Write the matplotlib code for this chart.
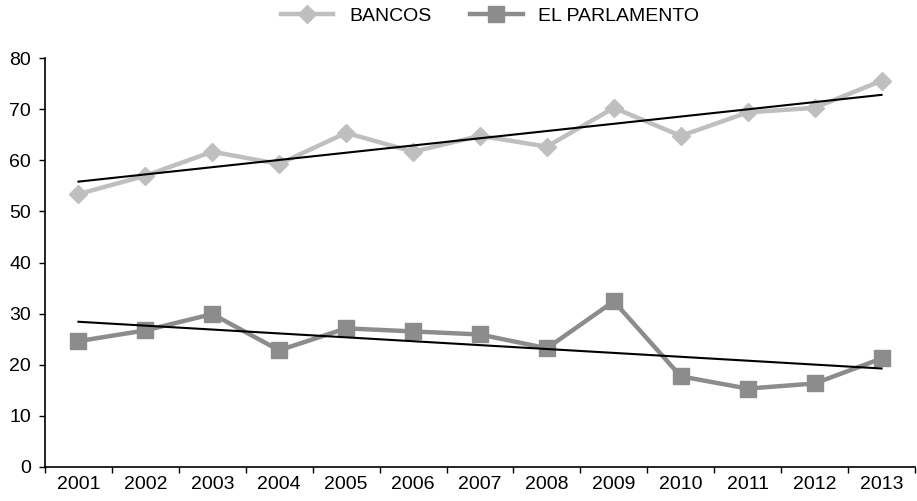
import matplotlib
matplotlib.use("Agg")
import matplotlib.pyplot as plt
import numpy as np

plt.rcParams['font.family'] = ['Liberation Sans', 'DejaVu Sans']

years = ['2001', '2002', '2003', '2004', '2005', '2006', '2007',
         '2008', '2009', '2010', '2011', '2012', '2013']
bancos = [53.4, 57.0, 61.7, 59.3, 65.4, 61.7, 64.8, 62.7, 70.3, 64.8, 69.4, 70.3, 75.6]
parlamento = [24.6, 26.7, 29.9, 22.8, 27.1, 26.5, 25.9, 23.2, 32.4, 17.7, 15.3, 16.3, 21.2]

fig = plt.figure(figsize=(9.17, 5.01), dpi=100)
ax = fig.add_axes([45 / 917, 34.3 / 501, 870 / 917, 408.4 / 501])

x = np.arange(len(years))

ax.plot(x, bancos, color='#bfbfbf', lw=3.2, marker='D', markersize=9.5,
        label='BANCOS', zorder=2)
ax.plot(x, parlamento, color='#8c8c8c', lw=3.2, marker='s', markersize=11,
        label='EL PARLAMENTO', zorder=2)

# linear trend lines
for series in (bancos, parlamento):
    k, b = np.polyfit(x, series, 1)
    ax.plot(x, k * x + b, color='black', lw=1.5, zorder=3)

ax.set_xlim(-0.5, len(years) - 0.5)
ax.set_ylim(0, 80)
ax.set_yticks(range(0, 81, 10))

# tick marks at category boundaries, labels in the middle
ax.set_xticks(np.arange(-0.5, len(years), 1.0))
ax.set_xticklabels([])
ax.set_xticks(x, minor=True)
ax.set_xticklabels(years, minor=True)
ax.tick_params(axis='x', which='minor', length=0, pad=7, labelsize=14)
ax.tick_params(axis='both', which='major', length=4, width=1, direction='out',
               labelsize=14)
ax.tick_params(axis='y', pad=6)

for side in ('top', 'right'):
    ax.spines[side].set_visible(False)
for side in ('left', 'bottom'):
    ax.spines[side].set_linewidth(1.2)

ax.legend(loc='center', bbox_to_anchor=(490 / 917, 485 / 501),
          bbox_transform=fig.transFigure, ncol=2, frameon=False, fontsize=14,
          handlelength=2.7, handletextpad=0.8, columnspacing=2.0)

fig.savefig('out.png', dpi=100)
